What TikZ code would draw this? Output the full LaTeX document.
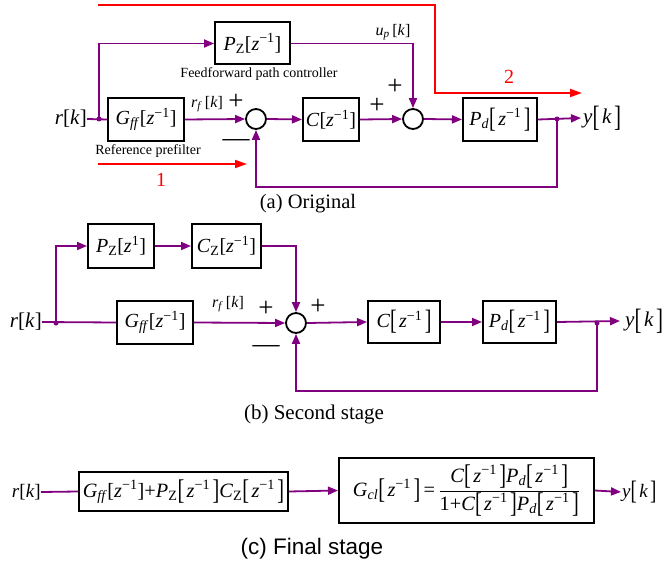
\documentclass[tikz,border=0pt]{standalone}
\usepackage{fontspec}
\usepackage{graphicx}
\setmainfont{Liberation Serif}
\newfontfamily\arialfont{Liberation Sans}
\usetikzlibrary{arrows.meta}
\definecolor{pur}{RGB}{128,0,128}
\definecolor{redc}{RGB}{255,0,0}
\newcommand{\vi}[1]{\textit{#1}}
\newcommand{\zinv}{\vi{z}\textsuperscript{−1}}
\newcommand{\zone}{\vi{z}\textsuperscript{1}}
\newcommand{\tbl}{\raisebox{-0.11em}{\scalebox{1}[1.4]{[}}}
\newcommand{\tbr}{\raisebox{-0.11em}{\scalebox{1}[1.4]{]}}}
\newcommand{\bb}[1]{\tbl\kern0.12em#1\kern0.12em\tbr}
\begin{document}
\begin{tikzpicture}[x=1pt,y=-1pt,
  blk/.style={draw=black,line width=2pt,inner sep=0pt,font=\fontsize{20}{22}\selectfont},
  sumc/.style={draw=black,circle,line width=1.8pt,minimum size=20pt,inner sep=0pt},
  sig/.style={draw=pur,line width=1.8pt},
  arr/.style={sig,-{Triangle[length=10pt,width=8pt]}},
  rarr/.style={draw=redc,line width=1.8pt,-{Triangle[length=12pt,width=8pt]}},
  lbl/.style={font=\fontsize{21}{23}\selectfont,inner sep=0pt},
  lbls/.style={font=\fontsize{16}{18}\selectfont,inner sep=0pt},
  small/.style={font=\fontsize{14}{16}\selectfont,inner sep=0pt},
  captxt/.style={font=\fontsize{20.5}{22}\selectfont,inner sep=0pt},
  num/.style={font=\fontsize{20}{22}\selectfont,inner sep=0pt,text=redc},
  sgn/.style={font=\fontsize{27}{27}\selectfont,inner sep=0pt},
  dot/.style={circle,fill=pur,minimum size=5pt,inner sep=0pt},
]
\useasboundingbox (0,0) rectangle (662,567);

% ---------- (a) Original ----------
\node[lbl,anchor=east] (ra) at (87,119) {\vi{r}[\vi{k}]};
\node[dot] (ja) at (99,119) {};
\node[blk,minimum width=75pt,minimum height=42pt] (pz) at (252.5,43.5) {\vi{P}\textsubscript{Z}[\zinv]};
\node[blk,minimum width=76pt,minimum height=43pt] (gff) at (146,119.5) {\vi{G}\textsubscript{\vi{ff}}[\zinv]};
\node[sumc] (s1) at (256,119) {};
\node[blk,minimum width=56pt,minimum height=43pt] (ca) at (331,119.5) {\vi{C}[\zinv]};
\node[sumc] (s2) at (413,119) {};
\node[blk,minimum width=74pt,minimum height=43pt] (pda) at (500,119.5) {\vi{P}\textsubscript{\vi{d}}\bb{\zinv}};
\node[dot] (oa) at (557,119) {};
\node[lbl,anchor=west,inner xsep=2pt] (yla) at (581,118) {\vi{y}\bb{\vi{k}}};
\coordinate (fba) at (557,187);

\draw[sig] (ra.east) -- (gff.west);
\draw[arr] (ja.center) |- (pz.west);
\draw[arr] (gff.east) -- (s1.west);
\draw[arr] (s1.east) -- (ca.west);
\draw[arr] (ca.east) -- (s2.west);
\draw[arr] (pz.east) -| (s2.north);
\draw[arr] (s2.east) -- (pda.west);
\draw[arr] (pda.east) -- (yla.west);
\draw[arr] (oa.center) -- (fba) -| (s1.south);

\node[lbls] (upl) at (393,32) {\vi{u}\textsubscript{\vi{p}}\,[\vi{k}]};
\node[lbls] (rfl) at (207,104) {\vi{r}\textsubscript{\vi{f}}\,[\vi{k}]};
\node[small] (ffl) at (259,74) {Feedforward path controller};
\node[small] (rpl) at (148,151) {Reference prefilter};
\node[sgn] (p1) at (236,102) {+};
\node[sgn] (m1) at (236,143) {—};
\node[sgn] (p2) at (395,87) {+};
\node[sgn] (p3) at (377,106) {+};

\coordinate (r2a) at (98,5);
\coordinate (r2b) at (435,93);
\coordinate (r2c) at (582,93);
\draw[rarr] (r2a) -| (r2b) -- (r2c);
\node[num] (n2) at (509,77) {2};
\coordinate (r1a) at (98,164);
\coordinate (r1b) at (247,164);
\draw[rarr] (r1a) -- (r1b);
\node[num] (n1) at (161,180) {1};
\node[captxt] (capa) at (308,204) {(a) Original};

% ---------- (b) Second stage ----------
\node[lbl,anchor=east] (rb) at (42,322) {\vi{r}[\vi{k}]};
\node[dot] (jb) at (56,323) {};
\node[blk,minimum width=66pt,minimum height=44pt] (pzb) at (121,246) {\vi{P}\textsubscript{Z}[\zone]};
\node[blk,minimum width=69pt,minimum height=44pt] (czb) at (226.5,246) {\vi{C}\textsubscript{Z}[\zinv]};
\node[blk,minimum width=76pt,minimum height=43pt] (gffb) at (155,322.5) {\vi{G}\textsubscript{\vi{ff}}[\zinv]};
\node[sumc] (sb) at (296,323) {};
\node[blk,minimum width=72pt,minimum height=42pt] (cb) at (404,322) {\vi{C}\bb{\zinv}};
\node[blk,minimum width=73pt,minimum height=42pt] (pdb) at (519.5,322) {\vi{P}\textsubscript{\vi{d}}\bb{\zinv}};
\node[dot] (ob) at (597,323) {};
\node[lbl,anchor=west,inner xsep=5pt] (ylb) at (620,321) {\vi{y}\bb{\vi{k}}};
\coordinate (fbb) at (597,391);

\draw[sig] (rb.east) -- (gffb.west);
\draw[arr] (jb.center) |- (pzb.west);
\draw[arr] (pzb.east) -- (czb.west);
\draw[arr] (czb.east) -| (sb.north);
\draw[arr] (gffb.east) -- (sb.west);
\draw[arr] (sb.east) -- (cb.west);
\draw[arr] (cb.east) -- (pdb.west);
\draw[arr] (pdb.east) -- (ylb.west);
\draw[arr] (ob.center) -- (fbb) -| (sb.south);

\node[lbls] (rflb) at (228,304) {\vi{r}\textsubscript{\vi{f}}\,[\vi{k}]};
\node[sgn] (pb1) at (266,309) {+};
\node[sgn] (pb2) at (318,307) {+};
\node[sgn] (mb1) at (266,349) {—};
\node[captxt,font=\fontsize{21}{23}\selectfont] (capb) at (314,414) {(b) Second stage};

% ---------- (c) Final stage ----------
\node[lbl,anchor=east,font=\fontsize{19}{21}\selectfont] (rc) at (41,492) {\vi{r}[\vi{k}]};
\node[blk,minimum width=209pt,minimum height=39pt,font=\fontsize{20.3}{22}\selectfont] (b1) at (183.5,491.5)
  {\vi{G}\textsubscript{\vi{ff}}[\zinv]+\vi{P}\textsubscript{Z}\bb{\zinv}\vi{C}\textsubscript{Z}\bb{\zinv}};
\node[blk,minimum width=255pt,minimum height=65pt,font=\fontsize{20.3}{22}\selectfont] (b2) at (466.5,490.5)
  {\vi{G}\textsubscript{\vi{cl}}\bb{\zinv}\,=\,$\displaystyle\frac{\mbox{\vi{C}\bb{\zinv}\vi{P}\textsubscript{\vi{d}}\bb{\zinv}}}{\mbox{1+\vi{C}\bb{\zinv}\vi{P}\textsubscript{\vi{d}}\bb{\zinv}}}$};
\node[lbl,anchor=west,inner xsep=1pt,font=\fontsize{19}{21}\selectfont] (yc) at (621,492) {\vi{y}\bb{\vi{k}}};

\draw[sig] (rc.east) -- (b1.west);
\draw[arr] (b1.east) -- (b2.west);
\draw[arr] (b2.east) -- (yc.west);

\node[captxt,font=\arialfont\fontsize{22.5}{24}\selectfont] (capc) at (312,549) {(c) Final stage};
\end{tikzpicture}
\end{document}
